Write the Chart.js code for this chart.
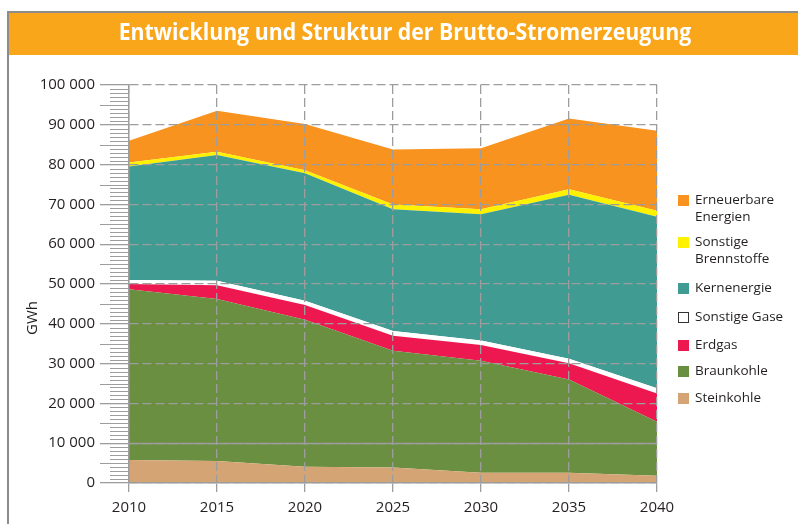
<!DOCTYPE html>
<html>
<head>
<meta charset="utf-8">
<script src="https://cdn.jsdelivr.net/npm/chart.js@4/dist/chart.umd.min.js"></script>
<style>
  html, body { margin: 0; padding: 0; background: #fff; }
  #wrap { position: relative; width: 798px; height: 524px; }
</style>
</head>
<body>
<div id="wrap"><canvas id="chart" width="798" height="524"></canvas></div>
<script>
// Daten (GWh)
const years = ["2010", "2015", "2020", "2025", "2030", "2035", "2040"];
const steinkohle = [5800, 5500, 4100, 3900, 2600, 2600, 1800];
const braunkohle = [42900, 40700, 36900, 29300, 28100, 23400, 13600];
const erdgas = [1300, 3500, 3700, 3800, 4000, 4100, 7100];
const sonstigeGase = [1000, 1100, 1100, 1200, 1100, 1100, 1300];
const kernenergie = [28500, 31600, 32000, 30600, 31700, 41200, 43100];
const sonstigeBrennstoffe = [1000, 800, 800, 1200, 1300, 1400, 1500];
const erneuerbare = [5500, 10300, 11600, 13800, 15300, 17800, 20100];

const titleText = "Entwicklung und Struktur der Brutto-Stromerzeugung";
const textColor = "#231f20";
const gridColor = "#9d9d9d";

// Legende (von oben nach unten)
const legendItems = [
  { lines: ["Erneuerbare", "Energien"], color: "#f7931e", y: 200 },
  { lines: ["Sonstige", "Brennstoffe"], color: "#fff200", y: 242 },
  { lines: ["Kernenergie"], color: "#409b93", y: 288 },
  { lines: ["Sonstige Gase"], color: "#ffffff", y: 317, outline: true },
  { lines: ["Erdgas"], color: "#ee1850", y: 345 },
  { lines: ["Braunkohle"], color: "#6a8f40", y: 371 },
  { lines: ["Steinkohle"], color: "#d5a474", y: 398 }
];

Chart.defaults.font.family = "'Open Sans', sans-serif";
Chart.defaults.color = textColor;

const fmt = v => v === 0 ? "0" : (v / 1000) + " 000";

const area = (label, data, color, fill) => ({
  label, data,
  backgroundColor: color,
  borderWidth: 0,
  pointRadius: 0,
  tension: 0,
  fill
});

// ----- eigenes Zeichnen: Rahmen, Titelbalken, Nebenstriche, Legende -----
const extras = {
  id: "extras",
  beforeDraw(chart) {
    const ctx = chart.ctx;
    ctx.save();
    ctx.fillStyle = "#fff";
    ctx.fillRect(0, 0, chart.width, chart.height);
    // Rahmen
    ctx.fillStyle = "#8c8c8c";
    ctx.fillRect(7, 11, 798 - 7, 2);
    ctx.fillRect(7, 11, 2, 524 - 11);
    // Titelbalken
    ctx.fillStyle = "#f9a61b";
    ctx.fillRect(9, 13, 798 - 9, 42);
    ctx.fillStyle = "#fff";
    ctx.font = "bold 23px 'Open Sans', sans-serif";
    ctx.textAlign = "center";
    ctx.textBaseline = "middle";
    // etwas schmaler, wie die Condensed-Schrift im Original
    ctx.translate(405, 33);
    ctx.scale(0.925, 1);
    ctx.fillText(titleText, 0, 0);
    ctx.restore();
  },
  afterDraw(chart) {
    const ctx = chart.ctx;
    const y = chart.scales.y;
    const left = chart.chartArea.left;
    ctx.save();
    // Nebenstriche alle 1000 GWh
    ctx.strokeStyle = gridColor;
    ctx.lineWidth = 1;
    for (let v = 0; v <= 100000; v += 1000) {
      if (v % 10000 === 0) continue;
      const py = Math.round(y.getPixelForValue(v)) + 0.5;
      const len = v % 5000 === 0 ? 29 : 19;
      ctx.beginPath();
      ctx.moveTo(left - len, py);
      ctx.lineTo(left, py);
      ctx.stroke();
    }
    // durchgezogene Linie bei 10 000
    const p10 = Math.round(y.getPixelForValue(10000)) + 0.5;
    ctx.lineWidth = 1.3;
    ctx.beginPath();
    ctx.moveTo(left, p10);
    ctx.lineTo(chart.chartArea.right, p10);
    ctx.stroke();
    // Achsentitel
    ctx.fillStyle = textColor;
    ctx.font = "15px 'Open Sans', sans-serif";
    ctx.translate(33, 318);
    ctx.rotate(-Math.PI / 2);
    ctx.textAlign = "center";
    ctx.textBaseline = "middle";
    ctx.fillText("GWh", 0, 0);
    ctx.restore();

    // Legende
    ctx.save();
    ctx.font = "13.5px 'Open Sans', sans-serif";
    ctx.textBaseline = "middle";
    ctx.textAlign = "left";
    legendItems.forEach(it => {
      ctx.fillStyle = it.color;
      ctx.fillRect(678, it.y - 5, 11, 11);
      if (it.outline) {
        ctx.strokeStyle = "#333";
        ctx.lineWidth = 1;
        ctx.strokeRect(678.5, it.y - 4.5, 10, 10);
      }
      ctx.fillStyle = textColor;
      it.lines.forEach((t, i) => ctx.fillText(t, 695, it.y + i * 17));
    });
    ctx.restore();
  }
};

new Chart(document.getElementById("chart").getContext("2d"), {
  type: "line",
  data: {
    labels: years,
    datasets: [
      area("Steinkohle", steinkohle, "#d5a474", "origin"),
      area("Braunkohle", braunkohle, "#6a8f40", "-1"),
      area("Erdgas", erdgas, "#ee1850", "-1"),
      area("Sonstige Gase", sonstigeGase, "#ffffff", "-1"),
      area("Kernenergie", kernenergie, "#409b93", "-1"),
      area("Sonstige Brennstoffe", sonstigeBrennstoffe, "#fff200", "-1"),
      area("Erneuerbare Energien", erneuerbare, "#f7931e", "-1")
    ]
  },
  options: {
    responsive: false,
    animation: false,
    devicePixelRatio: 1,
    layout: { padding: { top: 85, left: 9, right: 141, bottom: 0 } },
    plugins: { legend: { display: false }, tooltip: { enabled: false } },
    scales: {
      x: {
        offset: false,
        grid: { color: gridColor, lineWidth: 1.3, tickLength: 9, tickColor: gridColor, tickWidth: 1.3, z: 1 },
        border: { color: gridColor, width: 1.5, dash: [9, 4], z: 2 },
        ticks: { font: { size: 15 }, padding: 7, color: textColor, maxRotation: 0 },
        afterFit: s => { s.height = 41; }
      },
      y: {
        stacked: true,
        min: 0, max: 100000,
        grid: { color: gridColor, lineWidth: 1.3, tickLength: 29, tickColor: gridColor, tickWidth: 1.3, z: 1 },
        border: { color: gridColor, width: 1.5, dash: [9, 4], z: 2 },
        ticks: { stepSize: 10000, callback: v => fmt(v), font: { size: 15 }, padding: 5, color: textColor },
        afterFit: s => { s.width = 120; }
      }
    }
  },
  plugins: [extras]
});
</script>
</body>
</html>
